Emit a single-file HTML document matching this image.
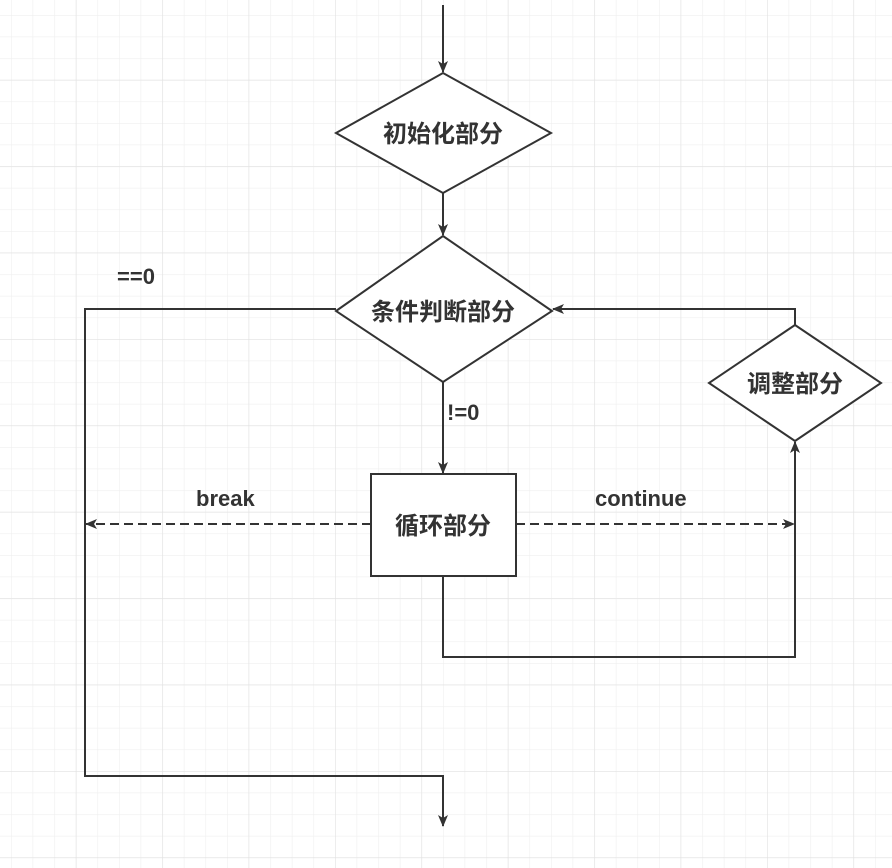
<!DOCTYPE html>
<html><head><meta charset="utf-8"><style>
html,body{margin:0;padding:0;background:#fff}
svg{display:block}
text{font-family:"Liberation Sans","Noto Sans CJK SC",sans-serif;font-weight:bold;fill:#333}
</style></head><body>
<svg width="892" height="868" xmlns="http://www.w3.org/2000/svg">
<defs>
<pattern id="g" x="-10.6" y="-6.6" width="21.6" height="21.6" patternUnits="userSpaceOnUse">
<path d="M0 0H21.6M0 0V21.6" stroke="#efefef" stroke-width="1.2" fill="none"/>
</pattern>
<pattern id="G" x="-10.6" y="-6.6" width="86.4" height="86.4" patternUnits="userSpaceOnUse">
<path d="M0 0H86.4M0 0V86.4" stroke="#e2e2e2" stroke-width="1.2" fill="none"/>
</pattern>
<marker id="a" markerWidth="12" markerHeight="10" refX="11" refY="5" orient="auto" markerUnits="userSpaceOnUse">
<path d="M0 0L12 5L0 10L3 5Z" fill="#333"/>
</marker>
</defs>
<rect width="892" height="868" fill="url(#g)"/>
<rect width="892" height="868" fill="url(#G)"/>
<g stroke="#333" stroke-width="2" fill="none">
<line x1="443" y1="5" x2="443" y2="72" marker-end="url(#a)"/>
<line x1="443" y1="193" x2="443" y2="235" marker-end="url(#a)"/>
<line x1="443" y1="382" x2="443" y2="473" marker-end="url(#a)"/>
<polyline points="336,309 85,309 85,776 443,776 443,826" marker-end="url(#a)"/>
<polyline points="443,576 443,657 795,657 795,442" marker-end="url(#a)"/>
<polyline points="795,325 795,309 553,309" marker-end="url(#a)"/>
<line x1="371" y1="524" x2="86" y2="524" stroke-dasharray="9 5" marker-end="url(#a)"/>
<line x1="516" y1="524" x2="794" y2="524" stroke-dasharray="9 5" marker-end="url(#a)"/>
<path d="M336 133L443 73L551 133L443 193Z" fill="#fff"/>
<path d="M336 311L443 236L552 311L443 382Z" fill="#fff"/>
<path d="M709 383L795 325L881 383L795 441Z" fill="#fff"/>
<rect x="371" y="474" width="145" height="102" fill="#fff"/>
</g>
<g font-size="24" text-anchor="middle">
<text x="443" y="142">初始化部分</text>
<text x="443" y="320">条件判断部分</text>
<text x="795" y="392">调整部分</text>
<text x="443" y="534">循环部分</text>
</g>
<g font-size="22">
<text x="117" y="284">==0</text>
<text x="447" y="420">!=0</text>
<text x="196" y="506">break</text>
<text x="595" y="506">continue</text>
</g>
</svg>
</body></html>
